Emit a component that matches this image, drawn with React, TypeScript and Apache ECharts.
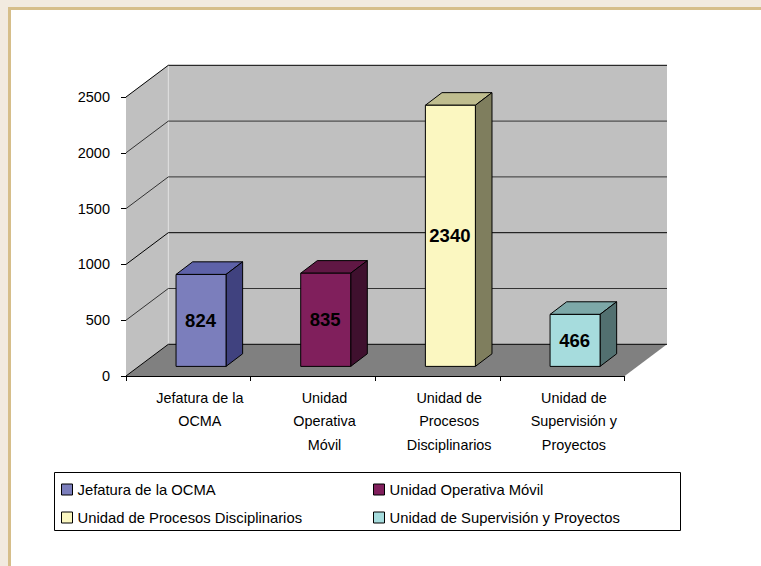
import React, { useEffect, useRef } from "react";
import * as echarts from "echarts";

const categories = ["Jefatura de la\nOCMA", "Unidad\nOperativa\nMóvil", "Unidad de\nProcesos\nDisciplinarios", "Unidad de\nSupervisión y\nProyectos"];
const seriesNames = ["Jefatura de la OCMA", "Unidad Operativa Móvil", "Unidad de Procesos Disciplinarios", "Unidad de Supervisión y Proyectos"];
const values = [824, 835, 2340, 466];
const frontColors = ["#7B7EBC", "#801F5C", "#FBF7C1", "#A6DCDD"];
const topColors = ["#5E62A8", "#601744", "#BFBD8F", "#7DA8A8"];
const sideColors = ["#40427F", "#3F102E", "#7F7E5E", "#527070"];
const valueTicks = [0, 500, 1000, 1500, 2000, 2500];

const FONT = "'Liberation Sans', Arial, sans-serif";
const DEPTH_X = 42.3;
const DEPTH_Y = 31.7;
const BAR_WIDTH = 50;
const BAR_DX = 16.6;
const BAR_DY = 12.6;
const BAR_OFFSET_X = 12.7;
const BAR_OFFSET_Y = 9.6;

function wallsItem(params: any, api: any) {
  const cs = params.coordSys;
  const y0 = api.coord([0, 0])[1];
  const yTop = api.coord([0, 2500])[1];
  const L = cs.x;
  const R = cs.x + cs.width;
  const children: any[] = [
    { type: "polygon", shape: { points: [[L, y0], [L + DEPTH_X, y0 - DEPTH_Y], [L + DEPTH_X, yTop - DEPTH_Y], [L, yTop]] }, style: { fill: "#C0C0C0" } },
    { type: "rect", shape: { x: L + DEPTH_X, y: yTop - DEPTH_Y, width: cs.width, height: y0 - yTop }, style: { fill: "#C0C0C0" } },
    { type: "polygon", shape: { points: [[L, y0], [R, y0], [R + DEPTH_X, y0 - DEPTH_Y], [L + DEPTH_X, y0 - DEPTH_Y]] }, style: { fill: "#808080" } },
    { type: "line", shape: { x1: L + DEPTH_X, y1: yTop - DEPTH_Y, x2: L + DEPTH_X, y2: y0 - DEPTH_Y }, style: { stroke: "#E0E0E0", lineWidth: 1 } },
  ];
  valueTicks.forEach((t) => {
    const y = api.coord([0, t])[1];
    children.push({
      type: "polyline",
      shape: { points: [[L, y], [L + DEPTH_X, y - DEPTH_Y], [R + DEPTH_X, y - DEPTH_Y]] },
      style: { fill: "none", stroke: t === 500 || t === 1500 || t === 2000 ? "#333" : "#000", lineWidth: 1 },
    });
  });
  return { type: "group", children };
}

function barItem(i: number) {
  return (params: any, api: any) => {
    const p = api.coord([api.value(0), api.value(1)]);
    const base = api.coord([api.value(0), 0]);
    const x = p[0] + BAR_OFFSET_X - BAR_WIDTH / 2;
    const yT = p[1] - BAR_OFFSET_Y;
    const yB = base[1] - BAR_OFFSET_Y;
    const x2 = x + BAR_WIDTH;
    const stroke = { stroke: "#000", lineWidth: 1, lineJoin: "round" };
    return {
      type: "group",
      children: [
        { type: "polygon", shape: { points: [[x, yT], [x2, yT], [x2 + BAR_DX, yT - BAR_DY], [x + BAR_DX, yT - BAR_DY]] }, style: { fill: topColors[i], ...stroke } },
        { type: "polygon", shape: { points: [[x2, yT], [x2 + BAR_DX, yT - BAR_DY], [x2 + BAR_DX, yB - BAR_DY], [x2, yB]] }, style: { fill: sideColors[i], ...stroke } },
        { type: "rect", shape: { x, y: yT, width: BAR_WIDTH, height: yB - yT }, style: { fill: frontColors[i], ...stroke } },
        { type: "text", x: x + BAR_WIDTH / 2 - 0.5, y: (yT + yB) / 2, style: { text: String(api.value(1)), fill: "#000", font: `bold 18.5px ${FONT}`, align: "center", verticalAlign: "middle" } },
      ],
    };
  };
}

export default function App() {
  const ref = useRef<HTMLDivElement>(null);
  useEffect(() => {
    document.body.style.margin = "0";
    const chart = echarts.init(ref.current!, undefined, { renderer: "svg" });
    const legendBase = {
      orient: "vertical",
      itemWidth: 11,
      itemHeight: 11,
      itemStyle: { borderColor: "#000", borderWidth: 1 },
      icon: "rect",
      padding: 0,
      textStyle: { fontFamily: FONT, fontSize: 14.8, color: "#000" },
    };
    chart.setOption({
      animation: false,
      backgroundColor: "#fff",
      graphic: [
        { type: "rect", silent: true, z: -10, shape: { x: 0, y: 0, width: 761, height: 7 }, style: { fill: "#F2EADF" } },
        { type: "rect", silent: true, z: -10, shape: { x: 0, y: 0, width: 8, height: 566 }, style: { fill: "#F2EADF" } },
        { type: "rect", silent: true, z: -10, shape: { x: 8, y: 7, width: 753, height: 3 }, style: { fill: "#D6BE8A" } },
        { type: "rect", silent: true, z: -10, shape: { x: 8, y: 7, width: 3, height: 559 }, style: { fill: "#D6BE8A" } },
        { type: "rect", silent: true, z: -5, shape: { x: 54.5, y: 472.5, width: 626, height: 58 }, style: { fill: "#fff", stroke: "#000", lineWidth: 1 } },
      ],
      legend: [
        { ...legendBase, left: 61, top: 482, data: [seriesNames[0], seriesNames[2]], itemGap: 13 },
        { ...legendBase, left: 373, top: 482, data: [seriesNames[1], seriesNames[3]], itemGap: 13 },
      ],
      grid: { left: 126, right: 761 - 624.7, top: 97, bottom: 566 - 376, containLabel: false },
      xAxis: {
        type: "category",
        data: categories,
        axisLine: { lineStyle: { color: "#000", width: 1 } },
        axisTick: { show: true, length: 5, alignWithLabel: false, lineStyle: { color: "#000" } },
        splitLine: { show: false },
        axisLabel: { fontFamily: FONT, fontSize: 14.4, color: "#000", lineHeight: 23.6, margin: 10, interval: 0, padding: [0, 0, 0, 23] },
      },
      yAxis: {
        type: "value",
        min: 0,
        max: 2500,
        interval: 500,
        axisLine: { show: true, lineStyle: { color: "#000", width: 1 } },
        axisTick: { show: true, length: 5, lineStyle: { color: "#000" } },
        splitLine: { show: false },
        axisLabel: { fontFamily: FONT, fontSize: 14.5, color: "#000", margin: 16, padding: [4, 0, 0, 0], formatter: (v: number) => String(v) },
      },
      series: [
        {
          type: "custom",
          name: "walls",
          silent: true,
          z: 1,
          renderItem: wallsItem,
          data: [[categories[0], 0]],
          encode: { x: 0, y: 1 },
        },
        ...seriesNames.map((name, i) => ({
          type: "custom",
          name,
          z: 2,
          itemStyle: { color: frontColors[i] },
          renderItem: barItem(i),
          data: [[categories[i], values[i]]],
          encode: { x: 0, y: 1 },
        })),
      ],
    });
    return () => chart.dispose();
  }, []);
  return <div ref={ref} style={{ position: "absolute", left: 0, top: 0, width: 761, height: 566 }} />;
}
